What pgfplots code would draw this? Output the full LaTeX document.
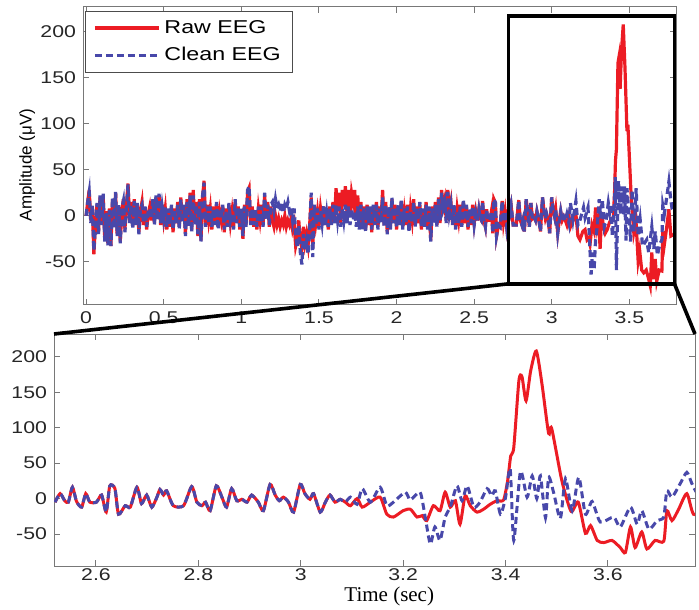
\documentclass[border=0pt]{standalone}
\usepackage{fontspec}
\setmainfont{Liberation Sans}[FakeStretch=1.25]
\newfontfamily\plainsans{Liberation Sans}
\newfontfamily\timesfont{Liberation Serif}
\usepackage{pgfplots}
\pgfplotsset{compat=1.18}
\usepackage{pgfplotstable}
\definecolor{rawc}{RGB}{236,28,36}
\definecolor{cleanc}{RGB}{72,72,170}
\definecolor{axc}{RGB}{120,120,120}

\pgfplotstableread{
t r c
0.00 0 0
0.01 15 15
0.02 28 26
0.03 -5 -8
0.04 10 12
0.05 -42 -38
0.06 -10 -12
0.07 12 14
0.08 -18 -20
0.09 20 22
0.10 -8 -10
0.11 22 24
0.12 -25 -28
0.13 5 3
0.14 -30 -32
0.15 8 6
0.16 -33 -33
0.17 18 20
0.18 -12 -14
0.19 25 26
0.20 -20 -22
0.21 10 12
0.22 -28 -30
0.23 5 8
0.24 18 16
0.25 -15 -18
0.26 12 10
0.27 35 34
0.28 -5 -8
0.29 15 12
0.30 -12 -14
0.31 18 16
0.32 -8 -10
0.33 12 14
0.34 -18 -20
0.35 5 8
0.36 15 12
0.37 -10 -8
0.38 8 10
0.39 -15 -12
0.40 2 5
0.41 10 8
0.42 -5 -3
0.43 15 18
0.44 -8 -10
0.45 20 22
0.46 -3 -5
0.47 22 24
0.48 -10 -8
0.49 12 10
0.50 -5 -3
0.51 8 10
0.52 -15 -12
0.53 5 8
0.54 -12 -10
0.55 10 12
0.56 -18 -15
0.57 8 5
0.58 -8 -10
0.59 15 12
0.60 -12 -15
0.61 20 18
0.62 -5 -8
0.63 10 12
0.64 -20 -22
0.65 18 15
0.66 -10 -12
0.67 25 22
0.68 -15 -18
0.69 28 22
0.70 -8 -10
0.71 15 12
0.72 -22 -20
0.73 18 15
0.74 -27 -28
0.75 20 22
0.76 38 36
0.77 -10 -12
0.78 12 10
0.79 -5 -8
0.80 8 10
0.81 -15 -12
0.82 10 8
0.83 -8 -10
0.84 12 15
0.85 -12 -15
0.86 5 8
0.87 -5 -3
0.88 10 12
0.89 -18 -15
0.90 8 5
0.91 -10 -12
0.92 12 14
0.93 -8 -5
0.94 5 3
0.95 -12 -15
0.96 15 18
0.97 -5 -8
0.98 10 8
0.99 -15 -12
1.00 5 8
1.01 -25 -22
1.02 12 10
1.03 -10 -12
1.04 25 28
1.05 30 32
1.06 -8 -10
1.07 10 8
1.08 -12 -10
1.09 5 8
1.10 -15 -12
1.11 8 10
1.12 -5 -8
1.13 12 10
1.14 -10 -12
1.15 22 25
1.16 -3 -5
1.17 15 12
1.18 -12 -10
1.19 10 12
1.20 -5 15
1.21 -12 5
1.22 0 18
1.23 -10 8
1.24 -3 12
1.25 -12 5
1.26 -5 15
1.27 -10 3
1.28 0 12
1.29 -12 8
1.30 -5 15
1.31 -10 5
1.32 -3 10
1.33 -15 -5
1.34 -8 8
1.35 -33 -20
1.36 -25 -35
1.37 -5 -10
1.38 -28 -40
1.39 -35 -53
1.40 -12 -20
1.41 -30 -38
1.42 -20 -28
1.43 -32 -42
1.44 -10 -15
1.45 20 25
1.46 -35 -45
1.47 10 12
1.48 -8 -10
1.49 5 8
1.50 -12 -15
1.51 8 5
1.52 -5 -8
1.53 10 12
1.54 -10 -12
1.55 5 3
1.56 -15 -12
1.57 10 8
1.58 -8 -10
1.59 15 12
1.60 -5 -8
1.61 30 12
1.62 5 -5
1.63 25 10
1.64 -8 -12
1.65 28 8
1.66 10 -5
1.67 32 12
1.68 5 -8
1.69 28 10
1.70 0 -10
1.71 25 8
1.72 15 -5
1.73 28 5
1.74 -5 -12
1.75 22 10
1.76 -10 -15
1.77 15 12
1.78 -12 -15
1.79 10 8
1.80 -15 -18
1.81 12 10
1.82 -10 -8
1.83 8 10
1.84 -18 -15
1.85 10 12
1.86 -8 -10
1.87 15 12
1.88 -12 -15
1.89 10 8
1.90 -5 -8
1.91 28 20
1.92 -10 -12
1.93 15 12
1.94 -18 -20
1.95 8 10
1.96 -12 -15
1.97 18 20
1.98 -5 -8
1.99 12 10
2.00 -15 -12
2.01 10 12
2.02 -8 -10
2.03 15 18
2.04 -12 -15
2.05 5 8
2.06 -10 -8
2.07 12 10
2.08 -15 -18
2.09 8 5
2.10 -5 -8
2.11 18 15
2.12 -10 -12
2.13 10 8
2.14 -8 -5
2.15 12 15
2.16 -15 -12
2.17 5 8
2.18 -10 -12
2.19 15 12
2.20 -12 -15
2.21 8 10
2.22 -27 -28
2.23 10 8
2.24 -5 -8
2.25 15 12
2.26 -10 -12
2.27 20 18
2.28 -8 -5
2.29 28 25
2.30 10 8
2.31 18 15
2.32 -5 -8
2.33 28 26
2.34 5 2
2.35 15 12
2.36 -8 -10
2.37 10 12
2.38 -12 -15
2.39 8 5
2.40 -5 -8
2.41 12 10
2.42 -10 -12
2.43 15 18
2.44 -8 -5
2.45 10 12
2.46 -15 -12
2.47 5 8
2.48 -10 -8
2.49 12 10
2.50 -8 -10
2.51 5 3
2.52 -5 -5
}\early

\pgfplotstableread{
t v
2.520 -5
2.530 7
2.539 -3
2.546 -5
2.554 16
2.562 -4
2.572 -12
2.580 7
2.588 -5
2.601 -5
2.611 5
2.620 -19
2.627 18
2.637 14
2.644 -22
2.657 -10
2.667 -12
2.680 16
2.689 -7
2.699 5
2.709 -12
2.719 2
2.725 13
2.732 5
2.738 11
2.751 -10
2.771 -10
2.787 17
2.797 -5
2.807 -10
2.814 -5
2.823 -17
2.835 18
2.846 2
2.855 -12
2.865 14
2.875 -3
2.885 -1
2.895 -5
2.904 5
2.917 -5
2.927 -17
2.940 20
2.950 5
2.958 -3
2.966 2
2.976 -5
2.986 -19
2.999 20
3.008 7
3.018 -1
3.025 7
3.038 -19
3.048 -5
3.057 5
3.067 -5
3.077 -1
3.087 -5
3.097 -10
3.110 0
3.120 -12
3.136 -5
3.155 2
3.168 -22
3.181 -26
3.200 -17
3.214 -15
3.227 -26
3.237 -24
3.246 -31
3.259 -10
3.272 -17
3.282 9
3.292 -12
3.302 -3
3.311 -36
3.321 4
3.331 -10
3.344 -19
3.357 -15
3.370 -8
3.383 -3
3.396 -2
3.404 25
3.410 60
3.416 72
3.426 166
3.432 172
3.440 138
3.449 180
3.460 208
3.471 162
3.484 92
3.490 99
3.510 25
3.528 -18
3.542 -5
3.556 -49
3.566 -38
3.579 -59
3.592 -62
3.608 -59
3.624 -69
3.634 -76
3.644 -40
3.653 -69
3.666 -47
3.676 -71
3.692 -59
3.709 -60
3.715 -17
3.725 -31
3.738 -15
3.754 7
3.767 -22
3.790 -20
}\zraw

\pgfplotstableread{
t v
2.520 -5
2.530 7
2.539 -3
2.546 -5
2.554 16
2.562 -4
2.572 -12
2.580 7
2.588 -5
2.601 -5
2.611 5
2.620 -19
2.627 18
2.637 14
2.644 -22
2.657 -10
2.667 -12
2.680 16
2.689 -7
2.699 5
2.709 -12
2.719 2
2.725 13
2.732 5
2.738 11
2.751 -10
2.771 -10
2.787 17
2.797 -5
2.807 -10
2.814 -5
2.823 -17
2.835 18
2.846 2
2.855 -12
2.865 14
2.875 -3
2.885 -1
2.895 -5
2.904 5
2.917 -5
2.927 -17
2.940 20
2.950 5
2.958 -3
2.966 2
2.976 -5
2.986 -19
2.999 20
3.008 7
3.018 -1
3.025 7
3.038 -19
3.048 -5
3.057 5
3.067 -5
3.077 -1
3.087 -5
3.097 2
3.110 -8
3.120 14
3.136 -5
3.155 16
3.168 -10
3.181 -5
3.204 9
3.214 -2
3.233 9
3.243 -26
3.253 -64
3.262 -40
3.272 -59
3.282 -26
3.292 -12
3.305 18
3.315 -3
3.325 18
3.338 -12
3.350 -5
3.364 14
3.373 4
3.380 11
3.390 -22
3.400 2
3.409 42
3.416 -59
3.429 38
3.442 2
3.452 32
3.461 0
3.468 32
3.478 -27
3.484 30
3.494 8
3.507 -28
3.517 28
3.530 -17
3.543 30
3.556 -22
3.569 -4
3.585 -33
3.611 -26
3.624 -40
3.644 -12
3.657 -36
3.666 -17
3.680 -43
3.696 -31
3.709 -26
3.715 11
3.725 2
3.741 21
3.754 37
3.764 21
3.774 8
3.790 5
}\zclean

\pgfplotsset{
  eegaxis/.style={
    scale only axis,
    axis line style={draw=axc, line width=0.5pt},
    tick style={draw=axc, line width=0.5pt},
    tick align=inside,
    major tick length=3pt,
    ticklabel style={font=\fontsize{8.5}{9}\selectfont, text=black!85},
    /pgf/number format/assume math mode=true,
  },
  rawline/.style={color=rawc, solid},
  cleanline/.style={color=cleanc, dash pattern=on 3.5pt off 2pt},
}

\begin{document}
\begin{tikzpicture}
\useasboundingbox (0pt,0pt) rectangle (349.5pt,304.5pt);
% top overview axis
\begin{axis}[eegaxis,
  at={(41.5pt,152pt)}, anchor=south west,
  width=296.5pt, height=149pt,
  xmin=-0.02, xmax=3.8, ymin=-97, ymax=227,
  xtick={0,0.5,1,1.5,2,2.5,3,3.5},
  ytick={-50,0,50,100,150,200},
  ylabel={Amplitude (μV)},
  ylabel style={font=\plainsans\fontsize{8.5}{9}\selectfont, at={(axis description cs:-0.094,0.47)}, anchor=center},
  legend style={at={(axis description cs:0.003,0.988)}, anchor=north west,
    draw=black!70, line width=0.5pt, fill=white,
    font=\fontsize{9.3}{10}\selectfont, inner xsep=4pt, inner ysep=2.5pt,
    row sep=1.5pt, cells={anchor=west}},
  legend image code/.code={\draw[#1] (0pt,0pt) -- (32pt,0pt);},
]
\addplot[rawline, line width=1.6pt] table[x=t, y=r]{\early};
\addlegendentry{Raw EEG}
\addplot[rawline, line width=1.6pt, forget plot] table[x=t, y=v]{\zraw};
\addplot[cleanline, line width=1.6pt] table[x=t, y=c]{\early};
\addlegendentry{Clean EEG}
\addplot[cleanline, line width=1.6pt, forget plot] table[x=t, y=v]{\zclean};
\coordinate (r1) at (axis cs:2.72,-74);
\coordinate (r2) at (axis cs:3.79,217);
\coordinate (r3) at (axis cs:3.79,-74);
\end{axis}
% bottom zoom axis
\begin{axis}[eegaxis,
  at={(27pt,21.5pt)}, anchor=south west,
  width=320.5pt, height=116pt,
  xmin=2.518, xmax=3.77, ymin=-95, ymax=232,
  xtick={2.6,2.8,3,3.2,3.4,3.6},
  ytick={-50,0,50,100,150,200},
  xticklabel style={yshift=2pt},
  xlabel={Time (sec)},
  xlabel style={font=\timesfont\fontsize{10.5}{12}\selectfont, at={(axis description cs:0.523,-0.13)}, anchor=center},
]
\addplot[rawline, line width=1.5pt, smooth, tension=0.4] table[x=t, y=v]{\zraw};
\addplot[cleanline, line width=1.5pt, smooth, tension=0.4] table[x=t, y=v]{\zclean};
\coordinate (b1) at (rel axis cs:0,1);
\coordinate (b2) at (rel axis cs:1,1);
\end{axis}
\draw[black, line width=1.8pt] (r1) rectangle (r2);
\draw[black, line width=1.8pt] (r1) -- (b1);
\draw[black, line width=1.8pt] (r3) -- (b2);
\end{tikzpicture}
\end{document}
